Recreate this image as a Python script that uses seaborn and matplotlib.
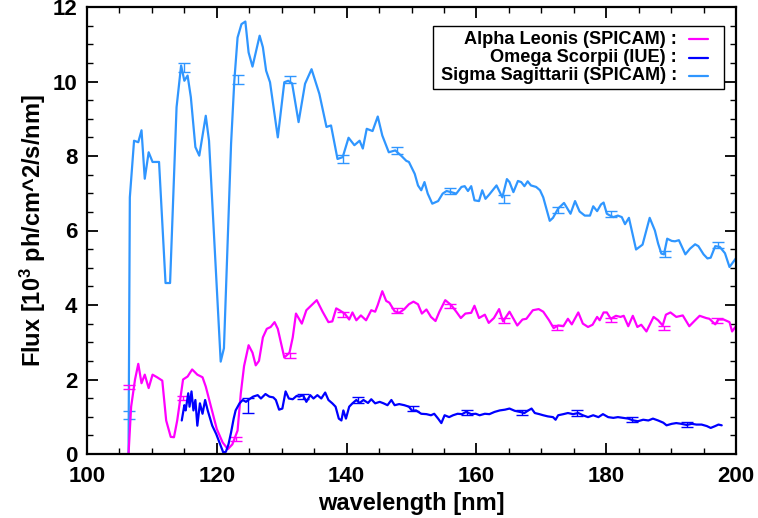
import numpy as np
import pandas as pd
import matplotlib
matplotlib.use("Agg")
import matplotlib.pyplot as plt
from matplotlib.ticker import MultipleLocator
from matplotlib.lines import Line2D
from matplotlib.patches import Rectangle
import seaborn as sns

# ---------------- data ----------------
sigma_x = [106.4, 106.6, 107.25, 107.9, 108.4, 108.9, 109.5, 110.1, 111.1, 112.1, 112.8,
           113.8, 114.5, 115.0, 115.5, 116.0, 116.7, 117.3, 118.3, 118.8, 120.6, 121.1,
           122.2, 122.7, 123.2, 123.8, 124.4, 124.9, 125.5, 126.6, 127.1, 127.6, 128.2,
           129.4, 130.4, 131.0, 131.6, 132.6, 133.6, 134.6, 135.8, 136.9, 137.6, 138.6,
           139.4, 140.3, 141.2, 142.0, 142.5, 143.1, 144.0, 144.8, 145.5, 146.5, 147.5,
           148.4, 149.2, 149.6, 150.5, 151.0, 151.5, 152.0, 152.5, 153.2, 154.1, 154.8,
           155.4, 156.1, 156.9, 157.7, 158.2, 158.7, 159.2, 159.7, 160.4, 160.9, 161.4,
           162.0, 163.1, 164.0, 164.7, 165.1, 165.7, 166.4, 166.9, 167.4, 167.9, 168.4,
           169.2, 169.8, 170.3, 171.3, 171.8, 172.6, 173.5, 174.5, 175.2, 175.9, 176.7,
           177.5, 178.0, 178.6, 179.2, 179.6, 180.1, 180.6, 181.1, 181.8, 182.4, 182.9,
           183.5, 184.6, 185.6, 186.7, 187.5, 188.0, 188.5, 188.9, 189.4, 190.1, 190.6,
           191.2, 192.2, 192.9, 193.7, 194.2, 195.0, 195.6, 196.1, 196.8, 197.5, 198.3,
           199.0, 199.6, 200.1]
sigma_y = [0.0, 6.89, 8.41, 8.37, 8.69, 7.39, 8.10, 7.84, 7.84, 4.59, 4.59,
           9.31, 10.43, 10.02, 10.16, 9.58, 8.24, 8.01, 9.08, 8.41, 2.48, 2.84,
           8.33, 10.02, 11.18, 11.54, 11.61, 10.78, 10.40, 11.23, 10.92, 10.29, 9.98,
           8.50, 9.98, 10.02, 9.95, 8.91, 9.94, 10.33, 9.67, 8.78, 8.82, 7.92,
           7.97, 8.49, 8.29, 8.41, 8.20, 8.73, 8.67, 9.06, 8.55, 8.10, 8.15,
           8.01, 7.87, 7.84, 7.52, 7.21, 7.08, 7.30, 6.99, 6.72, 6.79, 6.99,
           7.06, 7.03, 6.99, 7.17, 7.19, 7.06, 7.19, 6.81, 6.79, 7.08, 6.85,
           6.97, 7.21, 6.89, 7.38, 7.30, 7.03, 7.33, 7.30, 7.19, 7.32, 7.21,
           7.17, 7.08, 6.89, 6.26, 6.34, 6.59, 6.74, 6.45, 6.79, 6.51, 6.40,
           6.40, 6.65, 6.52, 6.70, 6.75, 6.45, 6.40, 6.36, 6.40, 6.36, 6.17,
           6.34, 5.49, 5.62, 6.34, 6.00, 5.65, 5.38, 5.36, 5.78, 5.72, 5.71,
           5.74, 5.36, 5.51, 5.63, 5.58, 5.36, 5.25, 5.27, 5.58, 5.56, 5.39,
           5.02, 5.16, 5.28]

alpha_x = [106.4, 106.8, 107.4, 107.9, 108.4, 108.9, 109.5, 110.1, 110.8, 111.6, 112.2,
           112.9, 113.4, 113.9, 114.8, 115.5, 116.2, 117.0, 117.8, 118.3, 119.1, 120.0,
           120.9, 121.7, 122.4, 123.2, 123.7, 124.2, 124.9, 125.5, 126.0, 126.5, 127.1,
           127.7, 128.3, 128.9, 129.4, 130.4, 131.2, 131.7, 132.2, 133.1, 133.8, 135.4,
           136.3, 137.2, 137.8, 138.4, 138.9, 139.7, 140.4, 140.9, 141.5, 142.2, 143.0,
           143.8, 144.4, 144.8, 145.5, 146.1, 146.6, 147.4, 148.1, 148.9, 149.6, 150.3,
           151.0, 151.6, 152.3, 153.0, 153.7, 154.3, 155.2, 156.1, 156.9, 157.6, 158.3,
           159.2, 159.7, 160.4, 161.3, 161.9, 162.7, 163.5, 164.1, 165.1, 166.3, 167.1,
           167.7, 168.7, 169.6, 170.3, 171.2, 171.9, 172.6, 173.4, 174.1, 174.7, 175.7,
           176.4, 177.2, 177.9, 178.6, 179.0, 179.6, 180.1, 180.7, 181.5, 182.2, 182.7,
           183.4, 184.1, 184.8, 185.4, 186.2, 187.3, 188.0, 188.7, 189.2, 189.9, 190.8,
           191.8, 192.8, 193.7, 194.4, 195.4, 195.9, 196.8, 197.3, 198.1, 199.0, 199.4,
           199.9]
alpha_y = [0.0, 1.27, 2.0, 2.42, 1.9, 2.13, 1.77, 2.13, 2.06, 1.97, 0.9,
           0.46, 0.45, 0.9, 2.0, 2.08, 2.27, 2.13, 2.06, 1.81, 1.27, 0.67,
           0.31, 0.13, 0.26, 0.63, 1.63, 2.36, 2.92, 2.72, 2.38, 2.5, 3.13,
           3.36, 3.41, 3.54, 3.36, 2.59, 2.72, 3.13, 3.77, 3.5, 3.86, 4.13,
           3.82, 3.54, 3.56, 3.91, 3.86, 3.77, 3.61, 3.8, 3.59, 3.72, 3.59,
           3.86, 3.82, 4.0, 4.37, 4.11, 4.06, 3.83, 3.79, 3.89, 4.02, 4.09,
           4.02, 3.77, 3.88, 3.68, 3.57, 3.82, 4.13, 4.0, 3.82, 3.65, 3.77,
           3.79, 3.98, 3.65, 3.74, 3.52, 3.65, 3.89, 3.56, 3.82, 3.45, 3.61,
           3.63, 3.86, 3.89, 3.82, 3.59, 3.38, 3.45, 3.43, 3.63, 3.48, 3.8,
           3.5, 3.41, 3.47, 3.68, 3.59, 3.8, 3.8, 3.63, 3.71, 3.68, 3.71,
           3.43, 3.71, 3.41, 3.47, 3.29, 3.68, 3.59, 3.45, 3.74, 3.8, 3.68,
           3.72, 3.43, 3.59, 3.71, 3.65, 3.63, 3.48, 3.61, 3.61, 3.54, 3.29,
           3.41]

omega_x = [114.6, 115.0, 115.2, 115.6, 115.8, 116.1, 116.4, 116.7, 117.0, 117.4, 117.8,
           118.2, 118.6, 118.9, 119.3, 119.9, 120.4, 120.8, 121.0, 121.4, 121.8, 122.2,
           122.6, 122.9, 123.5, 124.0, 124.5, 125.0, 125.6, 126.3, 126.8, 127.5, 128.1,
           128.7, 129.1, 129.6, 130.1, 130.6, 131.1, 131.7, 132.3, 132.7, 133.3, 133.8,
           134.4, 134.9, 135.5, 136.1, 136.7, 137.2, 137.8, 138.3, 138.8, 139.2, 139.5,
           139.9, 140.4, 140.9, 141.5, 142.0, 142.6, 143.3, 143.8, 144.4, 145.1, 145.7,
           146.3, 146.9, 147.4, 148.1, 148.9, 149.6, 150.1, 150.7, 151.5, 152.3, 153.0,
           153.5, 154.1, 154.6, 155.1, 155.8, 156.4, 157.1, 157.8, 158.4, 159.2, 159.9,
           160.5, 161.3, 162.0, 162.8, 163.6, 164.4, 165.1, 165.9, 166.7, 167.4, 168.0,
           168.5, 169.0, 169.7, 170.3, 171.0, 171.8, 172.2, 172.6, 173.4, 174.1, 174.9,
           175.7, 176.4, 177.2, 178.0, 178.8, 179.5, 180.3, 181.1, 181.8, 182.6, 183.4,
           184.2, 184.9, 185.7, 186.5, 187.2, 188.0, 188.8, 189.3, 190.1, 190.8, 191.6,
           192.4, 193.2, 193.9, 194.7, 195.5, 196.1, 196.8, 197.3, 197.8]
omega_y = [0.90, 1.31, 1.17, 1.63, 1.27, 1.68, 1.17, 1.45, 0.76, 1.36, 1.08,
           1.45, 1.17, 0.99, 0.76, 0.54, 0.31, 0.13, 0.04, 0.06, 0.26, 0.58,
           0.95, 1.17, 1.36, 1.45, 1.40, 1.47, 1.54, 1.58, 1.49, 1.61, 1.54,
           1.52, 1.45, 1.19, 1.22, 1.68, 1.49, 1.47, 1.56, 1.54, 1.58, 1.40,
           1.58, 1.49, 1.58, 1.49, 1.65, 1.45, 1.36, 1.27, 0.95, 0.90, 1.17,
           0.95, 1.27, 1.36, 1.45, 1.37, 1.45, 1.37, 1.47, 1.36, 1.40, 1.36,
           1.31, 1.45, 1.31, 1.34, 1.31, 1.27, 1.16, 1.17, 1.08, 1.07, 1.04,
           1.08, 0.95, 0.83, 1.04, 0.99, 1.04, 1.08, 1.07, 1.13, 1.07, 1.08,
           1.04, 1.08, 1.07, 1.13, 1.17, 1.19, 1.22, 1.16, 1.13, 1.10, 1.17,
           1.22, 1.10, 1.07, 1.04, 1.01, 0.99, 0.92, 1.04, 1.07, 1.10, 1.07,
           1.10, 1.04, 0.99, 1.04, 0.99, 1.07, 0.99, 0.97, 0.99, 0.97, 0.95,
           0.90, 0.88, 0.92, 0.90, 0.95, 0.90, 0.84, 0.77, 0.81, 0.83, 0.81,
           0.78, 0.81, 0.79, 0.79, 0.75, 0.70, 0.75, 0.79, 0.77]

# error bars
sigma_err_x = [106.5, 115.0, 123.3, 131.3, 139.5, 147.8, 156.0, 164.3, 172.5, 180.8, 189.0, 197.3]
sigma_err_y = [1.05, 10.38, 10.05, 10.05, 7.92, 8.15, 7.05, 6.85, 6.55, 6.45, 5.38, 5.60]
sigma_err = [0.1, 0.12, 0.12, 0.1, 0.1, 0.1, 0.08, 0.1, 0.08, 0.08, 0.08, 0.08]

alpha_err_x = [106.5, 114.8, 123.0, 131.3, 139.5, 147.7, 156.0, 164.2, 172.4, 180.7, 188.9, 197.1]
alpha_err_y = [1.80, 1.50, 0.40, 2.65, 3.75, 3.85, 3.97, 3.58, 3.40, 3.60, 3.38, 3.58]
alpha_err = [0.06] * 12

omega_err_x = [124.8, 133.3, 141.7, 150.2, 158.6, 167.1, 175.5, 184.0, 192.4]
omega_err_y = [1.30, 1.55, 1.45, 1.22, 1.12, 1.12, 1.10, 0.93, 0.80]
omega_err = [0.2, 0.07, 0.07, 0.07, 0.07, 0.07, 0.07, 0.07, 0.07]

labels = ["Alpha Leonis (SPICAM) :", "Omega Scorpii (IUE) :", "Sigma Sagittarii (SPICAM) :"]
colors = ["#ff00ff", "#0000ff", "#2f96ff"]

# ---------------- style ----------------
sns.set_style("ticks")
plt.rcParams["font.family"] = ["Liberation Sans", "DejaVu Sans"]
plt.rcParams["font.weight"] = "bold"
plt.rcParams["text.color"] = "black"
plt.rcParams["axes.labelcolor"] = "black"
plt.rcParams["xtick.color"] = "black"
plt.rcParams["ytick.color"] = "black"
plt.rcParams["mathtext.fontset"] = "custom"
plt.rcParams["mathtext.rm"] = "Liberation Sans:bold"
plt.rcParams["mathtext.bf"] = "Liberation Sans:bold"
plt.rcParams["mathtext.it"] = "Liberation Sans:bold"
plt.rcParams["mathtext.default"] = "bf"

W, H = 758, 518
fig = plt.figure(figsize=(W / 100, H / 100), dpi=100)
ax = fig.add_axes([87 / W, 64 / H, (736 - 87) / W, (454 - 7) / H])

series = [
    (alpha_x, alpha_y, alpha_err_x, alpha_err_y, alpha_err),
    (omega_x, omega_y, omega_err_x, omega_err_y, omega_err),
    (sigma_x, sigma_y, sigma_err_x, sigma_err_y, sigma_err),
]
for i in [2, 0, 1]:
    xs, ys, ex, ey, ee = series[i]
    df = pd.DataFrame({"wavelength": xs, "flux": ys})
    sns.lineplot(data=df, x="wavelength", y="flux", ax=ax, color=colors[i],
                 estimator=None, sort=False, linewidth=1.6, legend=False)
    ax.errorbar(ex, ey, yerr=ee, fmt="none", ecolor=colors[i], elinewidth=1.0,
                capsize=4, capthick=1.0)

ax.set_xlim(100, 200)
ax.set_ylim(0, 12)
ax.xaxis.set_major_locator(MultipleLocator(20))
ax.xaxis.set_minor_locator(MultipleLocator(5))
ax.yaxis.set_major_locator(MultipleLocator(2))
ax.yaxis.set_minor_locator(MultipleLocator(0.5))
ax.tick_params(which="both", direction="in", top=True, right=True,
               color="black", labelcolor="black")
ax.tick_params(which="major", length=8, width=1.3, labelsize=16)
ax.tick_params(axis="x", which="major", pad=9)
ax.tick_params(axis="y", which="major", pad=7)
ax.tick_params(which="minor", length=4.5, width=1.0)
for lab in ax.get_xticklabels() + ax.get_yticklabels():
    lab.set_fontweight("bold")
for s in ax.spines.values():
    s.set_linewidth(1.6)
    s.set_color("black")

ax.set_xlabel("wavelength [nm]", fontsize=17, fontweight="bold", labelpad=3, color="black")
ax.set_ylabel(r"Flux [10$^{3}$ ph/cm^2/s/nm]", fontsize=17, fontweight="bold",
              labelpad=3, color="black")

# ---------------- legend box (IDL style, right-aligned labels) ----------------
def fx(px):
    return px / W

def fy(py):
    return 1 - py / H

fig.patches.append(Rectangle((fx(433), fy(89)), fx(724) - fx(433), fy(26) - fy(89),
                             transform=fig.transFigure, fill=True, facecolor="white",
                             edgecolor="black", linewidth=1.0, zorder=5))
baselines = [43.5, 61.5, 79.5]
line_y = [39, 57.5, 75.5]
for lab, col, b, ly in zip(labels, colors, baselines, line_y):
    fig.text(fx(677), fy(b), lab, ha="right", va="baseline", fontsize=13.1,
             fontweight="bold", family="Liberation Sans", color="black", zorder=6)
    fig.lines.append(Line2D([fx(689), fx(708)], [fy(ly), fy(ly)], color=col,
                            linewidth=1.6, transform=fig.transFigure, zorder=6))

fig.savefig("out.png", dpi=100)
